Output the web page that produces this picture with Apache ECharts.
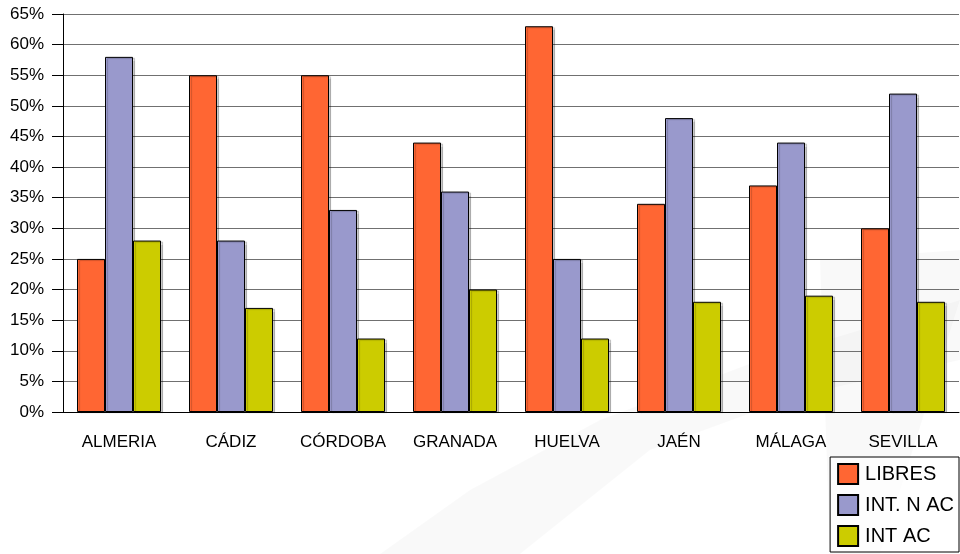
<!DOCTYPE html>
<html><head><meta charset="utf-8">
<script src="https://cdn.jsdelivr.net/npm/echarts@6/dist/echarts.min.js"></script>
<style>html,body{margin:0;padding:0;background:#fff}#c{width:960px;height:554px}</style>
</head><body><div id="c"></div>
<script>
const categories = ['ALMERIA','CÁDIZ','CÓRDOBA','GRANADA','HUELVA','JAÉN','MÁLAGA','SEVILLA'];
const libres = [25,55,55,44,63,34,37,30];
const intNAc = [58,28,33,36,25,48,44,52];
const intAc  = [28,17,12,20,12,18,19,18];
const seriesNames = ['LIBRES','INT. N AC','INT AC'];
const colors = ['#FF6633','#9999CC','#CCCC00'];

const chart = echarts.init(document.getElementById('c'));
const font = 'Liberation Sans, Arial, sans-serif';
const mk = (name, data, color) => ({
  name, type:'bar', data, barGap:'0%', barCategoryGap:'25%',
  itemStyle:{color, borderColor:'#000', borderWidth:1, shadowColor:'rgba(0,0,0,0.2)', shadowOffsetX:2, shadowOffsetY:1, shadowBlur:1},
  emphasis:{disabled:true}, animation:false
});
chart.setOption({
  animation:false,
  graphic:[{
    type:'polygon', silent:true, z:-10,
    shape:{points:[[380,554],[470,490],[600,420],[760,360],[960,300],[960,360],[800,395],[650,450],[520,554]]},
    style:{fill:'rgba(0,0,0,0.025)'}
  },{
    type:'polygon', silent:true, z:-10,
    shape:{points:[[820,260],[960,250],[960,300],[880,554],[830,554]]},
    style:{fill:'rgba(0,0,0,0.025)'}
  }],
  grid:{left:63,right:1,top:14,bottom:142,containLabel:false},
  legend:{
    orient:'vertical', right:1, bottom:2, data:seriesNames,
    itemWidth:20, itemHeight:20, itemGap:9, padding:[6,5,5,7],
    borderColor:'#000', borderWidth:1, backgroundColor:'rgba(255,255,255,0.6)',
    textStyle:{fontFamily:font, fontSize:20, color:'#000', padding:[0,0,0,2]},
    icon:'rect'
  },
  xAxis:{
    type:'category', data:categories,
    axisLine:{lineStyle:{color:'#000',width:1}},
    axisTick:{length:8, lineStyle:{color:'#000'}},
    axisLabel:{fontFamily:font, fontSize:17, color:'#000', margin:22}
  },
  yAxis:{
    type:'value', min:0, max:65, interval:5,
    axisLine:{show:true, lineStyle:{color:'#000',width:1}},
    axisTick:{show:true, length:11, lineStyle:{color:'#000'}},
    axisLabel:{fontFamily:font, fontSize:17, color:'#000', margin:19, formatter:'{value}%'},
    splitLine:{lineStyle:{color:'#707070',width:1}}
  },
  series:[mk(seriesNames[0],libres,colors[0]),mk(seriesNames[1],intNAc,colors[1]),mk(seriesNames[2],intAc,colors[2])]
});
</script></body></html>
